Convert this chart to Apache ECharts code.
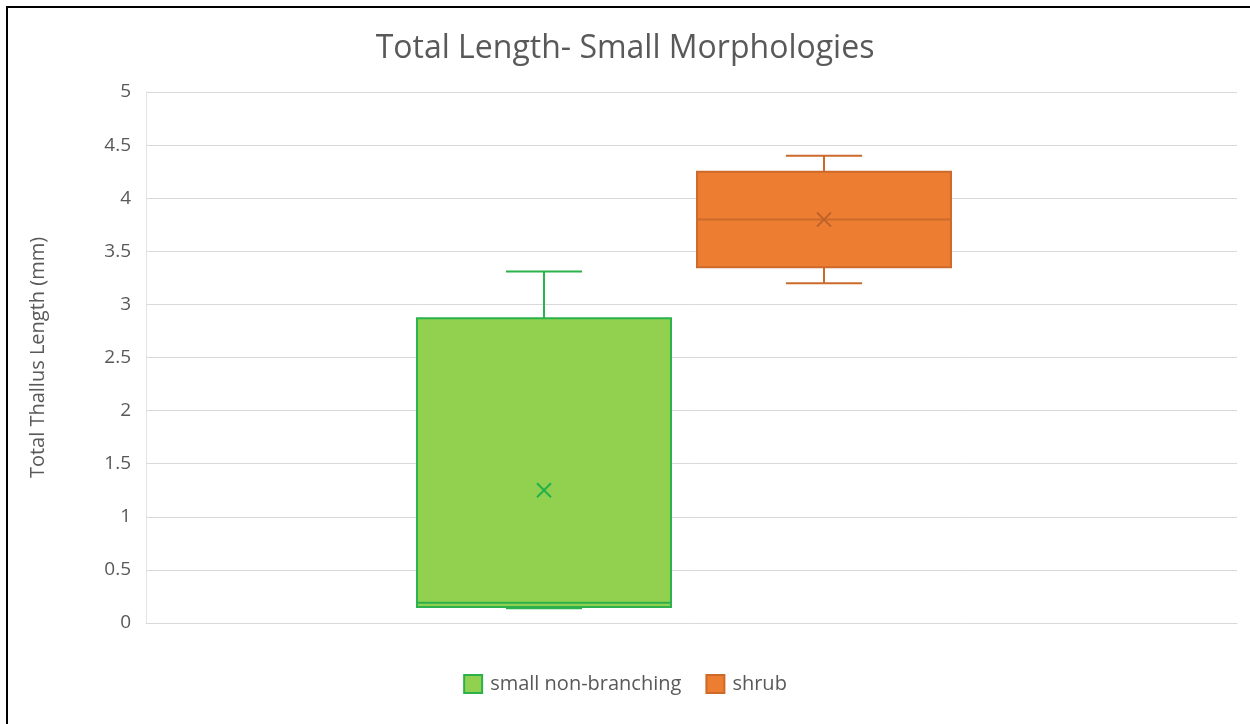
<!DOCTYPE html>
<html>
<head>
<meta charset="utf-8">
<script src="https://cdn.jsdelivr.net/npm/echarts@6/dist/echarts.min.js"></script>
<style>
  html, body { margin: 0; padding: 0; background: #fff; }
  #chart { position: absolute; left: 0; top: 0; width: 1250px; height: 724px; }
  #frame { position: absolute; left: 6px; top: 6px; width: 1250px; height: 724px;
           border-top: 2px solid #000; border-left: 2px solid #000; pointer-events: none; }
</style>
</head>
<body>
<div id="chart"></div>
<div id="frame"></div>
<script>
// categories / series
var categories = ['small non-branching', 'shrub'];
// [min, q1, median, q3, max, mean]
var smallNonBranching = [0.14, 0.15, 0.19, 2.87, 3.31, 1.25];
var shrub = [3.2, 3.35, 3.8, 4.25, 4.4, 3.8];
var yTicks = [0, 0.5, 1, 1.5, 2, 2.5, 3, 3.5, 4, 4.5, 5];

var FONT = 'Open Sans';

// 箱线图自绘 (box + whiskers + mean x)
function boxItem(fill, line, meanColor) {
  return function (params, api) {
    var x = api.value(0);
    var band = api.size([1, 0])[0];
    var half = band * 0.907 / 2;
    var cap = band * 0.136;
    var pMin = api.coord([x, api.value(1)]);
    var pQ1 = api.coord([x, api.value(2)]);
    var pMed = api.coord([x, api.value(3)]);
    var pQ3 = api.coord([x, api.value(4)]);
    var pMax = api.coord([x, api.value(5)]);
    var pMean = api.coord([x, api.value(6)]);
    var cx = pMed[0];
    var ls = { stroke: line, lineWidth: 2 };
    var m = 7;
    return {
      type: 'group',
      children: [
        { type: 'line', shape: { x1: cx, y1: pQ3[1], x2: cx, y2: pMax[1] }, style: ls },
        { type: 'line', shape: { x1: cx - cap, y1: pMax[1], x2: cx + cap, y2: pMax[1] }, style: ls },
        { type: 'line', shape: { x1: cx, y1: pQ1[1], x2: cx, y2: pMin[1] }, style: ls },
        { type: 'line', shape: { x1: cx - cap, y1: pMin[1], x2: cx + cap, y2: pMin[1] }, style: ls },
        { type: 'rect', shape: { x: cx - half, y: pQ3[1], width: half * 2, height: pQ1[1] - pQ3[1] },
          style: { fill: fill, stroke: line, lineWidth: 2 } },
        { type: 'line', shape: { x1: cx - half, y1: pMed[1], x2: cx + half, y2: pMed[1] }, style: ls },
        { type: 'line', shape: { x1: pMean[0] - m, y1: pMean[1] - m, x2: pMean[0] + m, y2: pMean[1] + m },
          style: { stroke: meanColor, lineWidth: 2 } },
        { type: 'line', shape: { x1: pMean[0] - m, y1: pMean[1] + m, x2: pMean[0] + m, y2: pMean[1] - m },
          style: { stroke: meanColor, lineWidth: 2 } }
      ]
    };
  };
}

var myChart = echarts.init(document.getElementById('chart'));
var option = {
  backgroundColor: '#fff',
  textStyle: { fontFamily: FONT },
  title: {
    text: 'Total Length- Small Morphologies',
    left: 'center',
    top: 28,
    textStyle: { fontFamily: FONT, fontSize: 32, fontWeight: 'normal', color: '#595959' }
  },
  legend: {
    top: 669,
    left: 'center',
    icon: 'rect',
    itemWidth: 18,
    itemHeight: 18,
    itemGap: 24,
    textStyle: { fontFamily: FONT, fontSize: 20, color: '#595959', padding: [0, 0, 0, 3] },
    data: categories
  },
  grid: [
    { left: 146, right: 13, top: 92, bottom: 101 },
    { left: 404, right: 286, top: 92, bottom: 101 }
  ],
  xAxis: [
    {
      gridIndex: 0, type: 'category', data: [''],
      axisLine: { lineStyle: { color: '#d9d9d9', width: 1 } },
      axisTick: { show: false }, axisLabel: { show: false }
    },
    {
      gridIndex: 1, type: 'category', data: categories,
      axisLine: { show: false }, axisTick: { show: false }, axisLabel: { show: false }
    }
  ],
  yAxis: [
    {
      gridIndex: 0, type: 'value', min: 0, max: 5, interval: 0.5,
      name: 'Total Thallus Length (mm)',
      nameLocation: 'middle',
      nameGap: 98,
      nameTextStyle: { fontFamily: FONT, fontSize: 20, color: '#595959' },
      axisLine: { show: true, lineStyle: { color: '#e3e3e3' } },
      axisTick: { show: false },
      axisLabel: {
        fontFamily: FONT, fontSize: 19, color: '#595959', margin: 15,
        formatter: function (v) { return yTicks.indexOf(v) >= 0 ? String(v) : ''; }
      },
      splitLine: { lineStyle: { color: '#d9d9d9', width: 1 } }
    },
    {
      gridIndex: 1, type: 'value', min: 0, max: 5, interval: 0.5,
      axisLine: { show: false }, axisTick: { show: false },
      axisLabel: { show: false }, splitLine: { show: false }
    }
  ],
  series: [
    {
      name: categories[0],
      type: 'custom',
      xAxisIndex: 1, yAxisIndex: 1,
      itemStyle: { color: '#92D050', borderColor: '#2BB24C', borderWidth: 1 },
      renderItem: boxItem('#92D050', '#2BB24C', '#22B14C'),
      encode: { x: 0, y: [1, 2, 3, 4, 5, 6] },
      data: [[0].concat(smallNonBranching)]
    },
    {
      name: categories[1],
      type: 'custom',
      xAxisIndex: 1, yAxisIndex: 1,
      itemStyle: { color: '#ED7D31', borderColor: '#CC6A2C', borderWidth: 1 },
      renderItem: boxItem('#ED7D31', '#CC6A2C', '#C0622A'),
      encode: { x: 0, y: [1, 2, 3, 4, 5, 6] },
      data: [[1].concat(shrub)]
    }
  ]
};
option && myChart.setOption(option);
</script>
</body>
</html>
